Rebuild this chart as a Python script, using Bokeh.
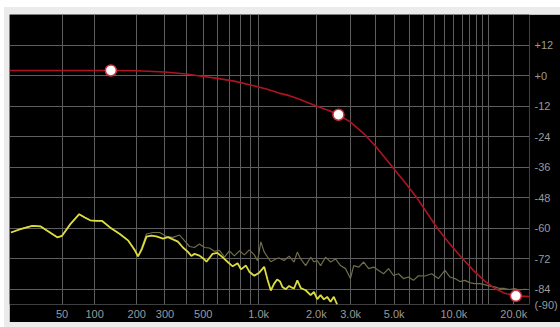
from bokeh.plotting import figure
from bokeh.models import FixedTicker, Spacer
from bokeh.layouts import column, row
from bokeh.embed import file_html
from bokeh.resources import INLINE

# ---------------- data (Hz, dB) ----------------
yellow_freq = [1, 8, 18, 26, 34, 44, 50, 61, 74, 83, 92, 104, 114, 131, 154, 176, 195, 204,
               216, 231, 248, 266, 292, 313, 332, 358, 383, 409, 428, 446, 476, 508, 521,
               563, 599, 641, 682, 726, 772, 805, 856, 892, 948, 1007, 1070, 1114, 1160,
               1208, 1252, 1298, 1334, 1390, 1446, 1498, 1534, 1596, 1662, 1763, 1871,
               1945, 2023, 2105, 2189, 2276, 2369, 2462, 2560]
yellow_db = [-61.7, -60.4, -59.1, -59.3, -61.3, -63.6, -63.0, -58.4, -54.5, -55.8, -56.9, -57.1,
             -57.1, -59.7, -62.3, -64.9, -68.8, -71.1, -68.2, -63.3, -62.9, -63.2, -64.1, -63.5,
             -64.3, -65.3, -67.6, -69.3, -70.9, -70.1, -70.8, -72.3, -73.2, -70.1, -69.7,
             -71.5, -73.3, -75.0, -73.8, -76.2, -74.7, -77.1, -78.7, -77.5, -75.2, -80.2,
             -84.5, -81.8, -80.2, -81.0, -83.1, -84.0, -82.7, -83.4, -83.7, -80.5, -83.5,
             -84.4, -86.3, -85.0, -87.9, -86.3, -88.0, -87.0, -88.9, -87.0, -90.0]

olive_freq = [1, 8, 18, 26, 34, 44, 50, 61, 74, 83, 92, 104, 114, 131, 154, 176, 195, 204,
              216, 231, 254, 279, 306, 335, 366, 392, 418, 446, 476, 508, 541, 577, 615, 655,
              697, 741, 789, 839, 892, 948, 987, 1028, 1070, 1114, 1160, 1232, 1282, 1362,
              1446, 1534, 1596, 1662, 1763, 1871, 1945, 2023, 2105, 2232, 2369, 2512, 2664,
              2825, 2995, 3112, 3300, 3498, 3708, 3930, 4166, 4415, 4680, 4959, 5255, 5569,
              5901, 6253, 6625, 7158, 7730, 8350, 9020, 9558, 10124, 10722, 11358, 12036,
              12750, 13500, 14304, 15150, 16044, 16998, 18000, 19068, 20196, 21390, 22656,
              23531]
olive_db = [-61.7, -60.4, -59.1, -59.3, -61.3, -63.6, -63.0, -58.4, -54.5, -55.8, -56.9, -57.1,
            -57.1, -59.7, -62.3, -64.9, -68.8, -71.1, -67.5, -62.3, -61.7, -61.7, -63.3, -63.6,
            -62.7, -65.0, -67.2, -67.6, -66.2, -67.6, -67.8, -69.1, -68.7, -71.4, -68.9,
            -70.9, -68.9, -70.5, -68.5, -70.5, -72.8, -65.4, -69.3, -71.3, -73.2, -72.1,
            -71.7, -72.7, -71.0, -73.3, -69.4, -72.1, -74.7, -71.4, -73.3, -72.7, -74.7,
            -71.4, -73.3, -72.1, -74.7, -75.9, -79.8, -74.7, -75.3, -73.3, -75.9, -75.3,
            -76.6, -77.9, -75.9, -78.6, -77.9, -79.8, -79.2, -80.5, -78.7, -78.8, -77.9,
            -79.8, -76.6, -79.2, -79.8, -81.0, -80.5, -81.4, -81.8, -81.8, -82.2, -82.8,
            -83.1, -83.7, -83.7, -84.1, -83.7, -84.3, -84.0, -84.1]

filter_freq = [0, 50, 133, 200, 300, 400, 480, 600, 750, 930, 1100, 1280, 1450, 1600, 2000,
               2300, 2600, 3000, 3500, 4000, 4500, 5000, 5750, 6500, 7400, 8350, 9500,
               10900, 12500, 14300, 16000, 18000, 20500, 24000]
filter_db = [2.0, 2.0, 2.0, 1.9, 1.4, 0.6, -0.2, -1.1, -2.3, -3.9, -5.3, -6.9, -7.9, -9.0,
             -12.0, -13.6, -15.4, -18.3, -22.8, -27.6, -32.4, -36.8, -42.6, -48.0, -54.5,
             -60.5, -66.0, -71.4, -76.5, -80.8, -83.6, -85.6, -86.6, -86.9]

node_freq = [133, 2600, 20500]
node_db = [2.0, -15.4, -86.6]

x_tick_freqs = [50, 100, 200, 300, 500, 1000, 2000, 3000, 5000, 10000, 20000]
x_tick_labels = ["50", "100", "200", "300", "500", "1.0k", "2.0k", "3.0k", "5.0k", "10.0k", "20.0k"]
x_grid_freqs = [50, 100, 200, 300, 400, 500, 600, 700, 800, 900, 1000, 2000, 3000, 4000,
                5000, 6000, 7000, 8000, 9000, 10000, 11000, 12000, 13000, 14000, 15000,
                20000, 24000]
y_ticks = [12, 0, -12, -24, -36, -48, -60, -72, -84, -90]
y_tick_labels = ["+12", "+0", "-12", "-24", "-36", "-48", "-60", "-72", "-84", "(-90)"]
y_grid = [12, 0, -12, -24, -36, -48, -60, -72, -84, -90]

F_MIN, F_MAX = 0, 24000
DB_MIN, DB_MAX = -90, 24

# frequency axis is log(f + C)
C = 60


def fx(freqs):
    return [f + C for f in freqs]


FONT = "Liberation Sans"
GRAY = "#ebebeb"

p = figure(width=551, height=308, x_axis_type="log",
           x_range=(F_MIN + C, F_MAX + C), y_range=(DB_MIN, DB_MAX),
           output_backend="svg", toolbar_location=None,
           x_axis_location="below", y_axis_location="right",
           background_fill_color="black", border_fill_color="black",
           min_border_left=0, min_border_right=29, min_border_top=0, min_border_bottom=16)
p.outline_line_color = None

p.xaxis.ticker = FixedTicker(ticks=fx(x_tick_freqs))
p.xaxis.major_label_overrides = {f + C: lab for f, lab in zip(x_tick_freqs, x_tick_labels)}
p.yaxis.ticker = FixedTicker(ticks=y_ticks)
p.yaxis.major_label_overrides = {v: lab for v, lab in zip(y_ticks, y_tick_labels)}

for ax in p.axis:
    ax.axis_line_color = None
    ax.major_tick_line_color = None
    ax.minor_tick_line_color = None
    ax.major_tick_out = 0
    ax.major_tick_in = 0
    ax.minor_tick_out = 0
    ax.minor_tick_in = 0
    ax.major_label_text_color = "#9a9a9a"
    ax.major_label_text_font = FONT
    ax.major_label_text_font_size = "11px"
p.xaxis.major_label_standoff = 3
p.yaxis.major_label_standoff = 5

p.xgrid.ticker = FixedTicker(ticks=fx(x_grid_freqs))
p.ygrid.ticker = FixedTicker(ticks=y_grid)
for g in (p.xgrid, p.ygrid):
    g.grid_line_color = "#5e5e5e"
    g.grid_line_width = 1

p.line(fx(olive_freq), olive_db, line_color="#6f6d4a", line_width=1.2)
p.line(fx(yellow_freq), yellow_db, line_color="#dcdc3e", line_width=1.8)
p.line(fx(filter_freq), filter_db, line_color="#ad1420", line_width=1.6)
p.scatter(fx(node_freq), node_db, size=11, fill_color="white",
          line_color="#d0303f", line_width=1.5)

# light grey frame around the panel (page chrome)
top_white = Spacer(width=560, height=7)
top_gray = row(Spacer(width=4, height=7),
               Spacer(width=556, height=7, styles={"background-color": GRAY}))
middle = row(Spacer(width=4, height=308),
             Spacer(width=5, height=308, styles={"background-color": GRAY}),
             p)
bottom_gray = row(Spacer(width=4, height=5),
                  Spacer(width=556, height=5, styles={"background-color": GRAY}))
layout = column(top_white, top_gray, middle, bottom_gray)

open("out.html", "w").write(file_html(layout, INLINE))
